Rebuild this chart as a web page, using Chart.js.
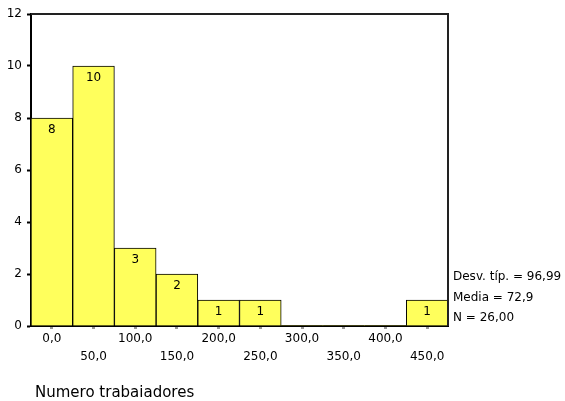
<!DOCTYPE html>
<html><head><meta charset="utf-8">
<script src="https://cdn.jsdelivr.net/npm/chart.js@4"></script>
<style>html,body{margin:0;padding:0;background:#fff;overflow:hidden}#wrap{width:565px;height:401px;position:relative}</style>
</head><body><div id="wrap"><canvas id="c"></canvas></div>
<script>
const categories = ['0,0','50,0','100,0','150,0','200,0','250,0','300,0','350,0','400,0','450,0'];
const counts = [8, 10, 3, 2, 1, 1, 0, 0, 0, 1];
const yMin = 0, yMax = 12, yStep = 2;
const statsLines = ['Desv. típ. = 96,99', 'Media = 72,9', 'N = 26,00'];
const axisTitle = 'Numero trabaiadores';

const FONT = 'DejaVu Sans';

const extras = {
  id: 'extras',
  afterDatasetsDraw(chart) {
    const ctx = chart.ctx;
    const meta = chart.getDatasetMeta(0);
    ctx.save();
    ctx.fillStyle = '#000';
    ctx.font = '12px "' + FONT + '"';
    ctx.textAlign = 'center';
    ctx.textBaseline = 'middle';
    meta.data.forEach((el, i) => {
      if (counts[i] > 0) ctx.fillText(String(counts[i]), el.x, el.y + 12);
    });
    ctx.restore();
  },
  afterDraw(chart) {
    const ctx = chart.ctx, a = chart.chartArea;
    ctx.save();
    ctx.strokeStyle = '#222';
    ctx.lineWidth = 2;
    ctx.beginPath();
    ctx.moveTo(a.left, a.top);
    ctx.lineTo(a.right, a.top);
    ctx.lineTo(a.right, a.bottom);
    ctx.stroke();
    ctx.fillStyle = '#000';
    ctx.textAlign = 'left';
    ctx.textBaseline = 'middle';
    ctx.font = '12px "' + FONT + '"';
    statsLines.forEach((t, i) => ctx.fillText(t, a.right + 5, a.bottom - 49 + i * 20.5));
    ctx.font = '15px "' + FONT + '"';
    ctx.fillText(axisTitle, 35, 393);
    ctx.restore();
  }
};

new Chart(document.getElementById('c'), {
  type: 'bar',
  data: {
    labels: categories,
    datasets: [{
      data: counts,
      backgroundColor: '#FFFF5C',
      borderColor: '#000',
      borderWidth: c => (c.raw > 0 ? 1 : 0),
      barPercentage: 1,
      categoryPercentage: 1
    }]
  },
  options: {
    responsive: true,
    maintainAspectRatio: false,
    animation: false,
    layout: { padding: { left: 0, top: 14, right: 117, bottom: 0 } },
    plugins: { legend: { display: false }, tooltip: { enabled: false } },
    scales: {
      x: {
        offset: true,
        grid: { offset: false, drawOnChartArea: false, drawTicks: true, tickLength: 3, tickWidth: 3, tickColor: '#999' },
        border: { color: '#000', width: 2 },
        ticks: {
          autoSkip: false, maxRotation: 0, padding: 1, color: '#000',
          font: { family: FONT, size: 12, lineHeight: '18px' },
          callback: (v, i) => (i % 2 ? ['', categories[i]] : categories[i])
        },
        afterFit: s => { s.height = 75; }
      },
      y: {
        min: yMin, max: yMax,
        grid: { drawOnChartArea: false, drawTicks: true, tickLength: 4, tickWidth: 2, tickColor: '#000' },
        border: { color: '#000', width: 2 },
        ticks: { stepSize: yStep, padding: 5, color: '#000', font: { family: FONT, size: 12 } },
        afterFit: s => { s.width = 31; }
      }
    }
  },
  plugins: [extras]
});
</script>
</body></html>
